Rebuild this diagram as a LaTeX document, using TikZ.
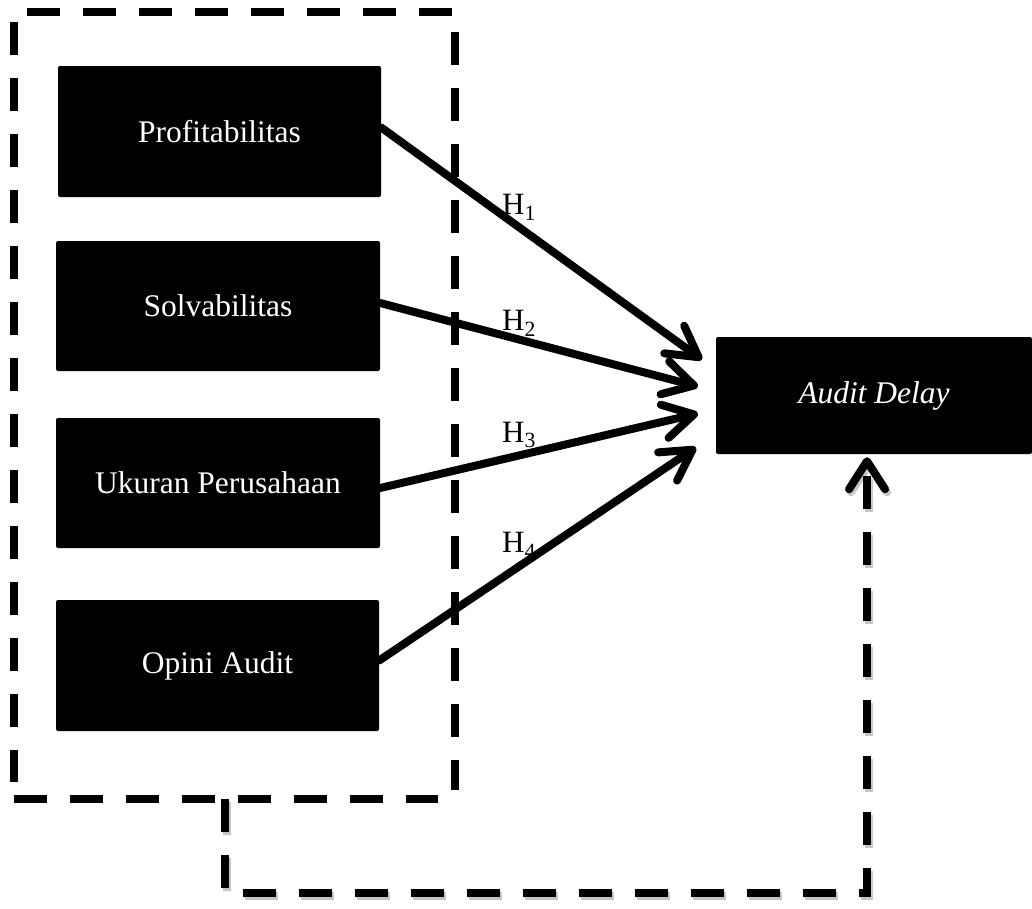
\documentclass[tikz,border=0pt]{standalone}
\usepackage{fontspec}
\setmainfont{Liberation Serif}
\usetikzlibrary{arrows.meta}
\begin{document}
\begin{tikzpicture}[x=1pt,y=-1pt,
  box/.style={draw=none, fill=black, text=white, rounded corners=2pt, inner sep=0pt, font=\fontsize{31.5}{37}\selectfont},
  leftbox/.style={box, minimum width=324pt, minimum height=131pt},
  rel/.style={line width=8pt, line cap=round, -{Straight Barb[length=30pt,width=34pt,line cap=round,line join=round]}},
  fbtip/.style={-{Straight Barb[length=28pt,width=36pt,line cap=round,line join=round]}},
  lbl/.style={font=\fontsize{31}{37}\selectfont, inner sep=0pt},
  grpdash/.style={line width=8pt, dash pattern=on 33pt off 23pt},
]
\useasboundingbox (0,0) rectangle (1032,908);

% group frame
\node[minimum width=441pt, minimum height=787pt, inner sep=0pt, anchor=north west] (grp) at (14,12) {};
\draw[grpdash] ([xshift=13pt]grp.north west) -- ([xshift=-3pt]grp.north east);
\draw[grpdash] ([yshift=-10pt]grp.north west) -- ([yshift=17pt]grp.south west);
\draw[grpdash] ([yshift=-20pt]grp.north east) -- ([yshift=9pt]grp.south east);
\draw[grpdash] (grp.south west) -- ([xshift=-17pt]grp.south east);

% boxes
\node[leftbox, minimum width=323pt] (p1) at (219.5,131.5) {Profitabilitas};
\node[leftbox, minimum height=130pt] (p2) at (218,306) {Solvabilitas};
\node[leftbox, minimum height=130pt] (p3) at (218,483) {Ukuran Perusahaan};
\node[leftbox, minimum width=323pt] (p4) at (217.5,665.5) {Opini Audit};
\node[box, minimum width=316pt, minimum height=117pt] (ad) at (874,395.5) {\itshape Audit Delay};

% relations
\draw[rel] ([yshift=4pt]p1.east) -- ([shift={(-14,-36)}]ad.west);
\draw[rel] ([yshift=3pt]p2.east) -- ([shift={(-18,-9)}]ad.west);
\draw[rel] ([yshift=-5pt]p3.east) -- ([shift={(-18,18)}]ad.west);
\draw[rel] ([yshift=5pt]p4.east) -- ([shift={(-20,52)}]ad.west);

% labels
\node[lbl] (h1) at (519,207) {H\textsubscript{1}};
\node[lbl] (h2) at (519,323) {H\textsubscript{2}};
\node[lbl] (h3) at (519,435) {H\textsubscript{3}};
\node[lbl] (h4) at (519,545) {H\textsubscript{4}};

% feedback
\coordinate (fbs) at (225,799);
\coordinate (fbc) at (867,893);
\begin{scope}[transform canvas={shift={(2pt,-3pt)}}]
\draw[grpdash, draw=gray!45, fbtip] (fbs) |- (fbc) -- ([yshift=-3pt]fbc |- ad.south);
\end{scope}
\draw[grpdash, fbtip] (fbs) |- (fbc) -- ([yshift=-3pt]fbc |- ad.south);
\end{tikzpicture}
\end{document}
